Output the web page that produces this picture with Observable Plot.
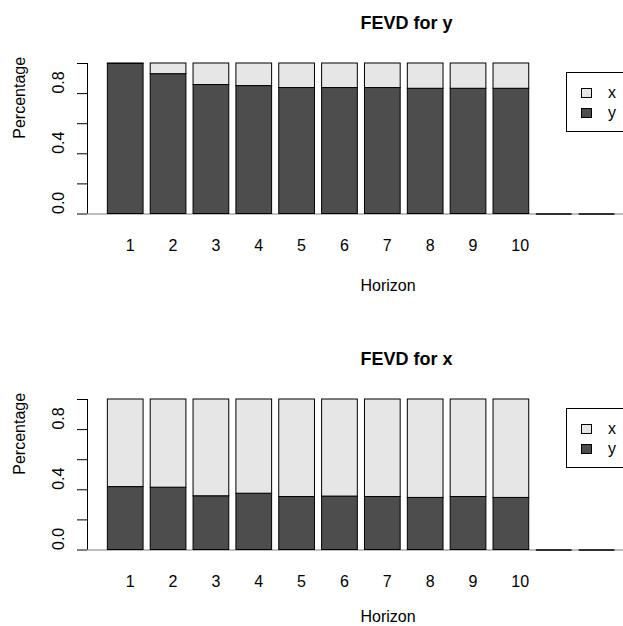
<!DOCTYPE html>
<html>
<head>
<meta charset="utf-8">
<script src="https://cdn.jsdelivr.net/npm/d3@7"></script>
<script src="https://cdn.jsdelivr.net/npm/@observablehq/plot@0.6"></script>
<style>
  html, body { margin: 0; padding: 0; background: white; overflow: hidden; }
  #wrap { position: relative; width: 623px; height: 626px; overflow: hidden; font-family: "Liberation Sans", Arial, sans-serif; }
  #wrap svg { display: block; overflow: hidden; }
  .legend { position: absolute; border: 1px solid black; background: white; box-sizing: border-box; width: 80px; height: 60px; }
  .legend .row { position: absolute; left: 0; height: 20px; font-size: 16px; }
  .legend .sw { position: absolute; width: 11px; height: 10px; border: 1px solid black; box-sizing: border-box; left: 14px; }
  .legend .lab { position: absolute; left: 41px; line-height: 16px; }
</style>
</head>
<body>
<div id="wrap"></div>
<script>
// ---- data ----
const horizons = [1, 2, 3, 4, 5, 6, 7, 8, 9, 10];
const varNames = ["x", "y"];
const varColors = ["#e6e6e6", "#4d4d4d"];
const yTicks = [0, 0.2, 0.4, 0.6, 0.8, 1.0];
const yTickLabels = [0, 0.4, 0.8];
// FEVD for y: shares of x and y
const fevdY_x = [0.003, 0.071, 0.143, 0.150, 0.163, 0.163, 0.163, 0.168, 0.168, 0.168];
const fevdY_y = [0.997, 0.929, 0.857, 0.850, 0.837, 0.837, 0.837, 0.832, 0.832, 0.832];
// FEVD for x: shares of x and y
const fevdX_x = [0.582, 0.586, 0.643, 0.626, 0.648, 0.645, 0.648, 0.654, 0.648, 0.654];
const fevdX_y = [0.418, 0.414, 0.357, 0.374, 0.352, 0.355, 0.352, 0.346, 0.352, 0.346];
const emptySlots = [10, 11]; // zero-height slots kept for the legend space
const panels = [
  {title: "FEVD for y", x: fevdY_x, y: fevdY_y},
  {title: "FEVD for x", x: fevdX_x, y: fevdX_y}
];

// ---- layout ----
const space = 0.2;
const slotL = s => space + s * (1 + space);
const xDomain = [-0.37, 14.92];
const font = "'Liberation Sans', Arial, sans-serif";

function panel(p, height, marginBottom, xlabDy) {
  const segs = [];
  horizons.forEach((h, i) => {
    segs.push({slot: i, v: "y", y1: 0, y2: p.y[i]});
    segs.push({slot: i, v: "x", y1: p.y[i], y2: p.y[i] + p.x[i]});
  });
  return Plot.plot({
    width: 623,
    height,
    marginLeft: 87,
    marginRight: -10,
    marginTop: 63,
    marginBottom,
    style: {fontFamily: font, fontSize: "16px", color: "black", background: "white"},
    x: {domain: xDomain, axis: null},
    y: {domain: [0, 1], axis: null},
    color: {domain: varNames, range: varColors},
    marks: [
      Plot.ruleY([0], {stroke: "#808080"}),
      Plot.rect(segs, {x1: d => slotL(d.slot), x2: d => slotL(d.slot) + 1, y1: "y1", y2: "y2", fill: "v", stroke: "black", strokeWidth: 1}),
      Plot.ruleY(emptySlots, {y: 0, x1: s => slotL(s), x2: s => slotL(s) + 1, stroke: "black", strokeWidth: 1.6}),
      Plot.ruleX([xDomain[0]], {y1: yTicks[0], y2: yTicks[yTicks.length - 1], stroke: "black"}),
      Plot.axisY({ticks: yTicks, tickSize: 10, tickFormat: () => "", label: null, stroke: "black"}),
      Plot.text(yTickLabels, {frameAnchor: "left", y: d => d, dx: -29, rotate: -90, textAnchor: "start", lineAnchor: "middle", text: d => d.toFixed(1), fontSize: 16, fill: "black"}),
      Plot.text(horizons, {x: h => slotL(h - 1) + 0.5, y: 0, dy: 32, textAnchor: "start", lineAnchor: "middle", text: h => String(h), fontSize: 16, fill: "black"}),
      Plot.text(["Percentage"], {frameAnchor: "left", dx: -68, rotate: -90, textAnchor: "start", lineAnchor: "middle", text: d => d, fontSize: 16, fill: "black"}),
      Plot.text(["Horizon"], {frameAnchor: "bottom", dy: xlabDy, textAnchor: "start", lineAnchor: "middle", text: d => d, fontSize: 16, fill: "black"}),
      Plot.text([p.title], {frameAnchor: "top", dy: -40, textAnchor: "start", lineAnchor: "middle", text: d => d, fontSize: 18, fontWeight: "bold", fill: "black"})
    ]
  });
}

const wrap = document.getElementById("wrap");
wrap.appendChild(panel(panels[0], 336, 122.5, 72));
wrap.appendChild(panel(panels[1], 290, 76.5, 66.5));

function legend(top) {
  const div = document.createElement("div");
  div.className = "legend";
  div.style.left = "566px";
  div.style.top = top + "px";
  varNames.forEach((v, i) => {
    const row = document.createElement("div");
    row.className = "row";
    row.style.top = (15 + i * 20) + "px";
    const sw = document.createElement("div");
    sw.className = "sw";
    sw.style.background = varColors[i];
    sw.style.top = "0px";
    const lab = document.createElement("div");
    lab.className = "lab";
    lab.style.top = "-3px";
    lab.textContent = v;
    row.appendChild(sw);
    row.appendChild(lab);
    div.appendChild(row);
  });
  wrap.appendChild(div);
}
legend(72);
legend(408);
</script>
</body>
</html>
